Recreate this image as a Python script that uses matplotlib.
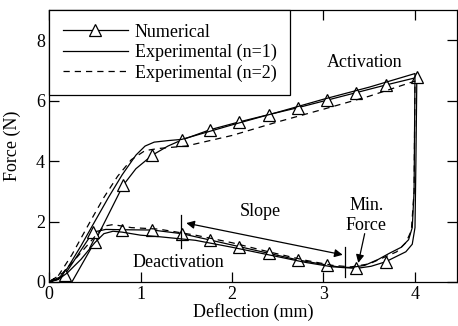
import matplotlib

matplotlib.use("Agg")
import matplotlib.pyplot as plt
from matplotlib.lines import Line2D

plt.rcParams["font.family"] = ["Liberation Serif", "DejaVu Serif"]
plt.rcParams["font.size"] = 13

# numerical model curve (loading then unloading)
num_x = [0.25, 0.5, 0.81, 0.95, 1.13, 1.3, 1.45, 1.76, 2.08, 2.4, 2.72, 3.04, 3.36, 3.68, 4.02,
         4.01, 4.0, 3.97, 3.9, 3.8, 3.68, 3.52, 3.36, 3.2, 3.04, 2.72, 2.4, 2.08, 1.76, 1.45,
         1.13, 0.8, 0.62, 0.48, 0.17, 0.0]
num_y = [0.0, 1.33, 3.2, 3.75, 4.2, 4.5, 4.7, 5.04, 5.3, 5.54, 5.77, 6.02, 6.27, 6.52, 6.77,
         4.0, 1.8, 1.25, 1.0, 0.85, 0.67, 0.52, 0.45, 0.48, 0.56, 0.73, 0.95, 1.17, 1.39, 1.6,
         1.72, 1.73, 1.74, 1.65, 0.23, 0.0]
# triangle markers of the numerical curve
mark_x = [0.5, 0.81, 1.13, 1.45, 1.76, 2.08, 2.4, 2.72, 3.04, 3.36, 3.68, 4.02,
          3.68, 3.36, 3.04, 2.72, 2.4, 2.08, 1.76, 1.45, 1.13, 0.8, 0.48, 0.17]
mark_y = [1.33, 3.2, 4.2, 4.7, 5.04, 5.3, 5.54, 5.77, 6.02, 6.27, 6.52, 6.77,
          0.67, 0.45, 0.56, 0.73, 0.95, 1.17, 1.39, 1.6, 1.72, 1.73, 1.65, 0.23]

# experimental, n=1
exp1_x = [0.0, 0.1, 0.2, 0.35, 0.5, 0.65, 0.8, 0.95, 1.05, 1.15, 1.3, 1.45, 1.6, 2.0, 2.5,
          3.0, 3.5, 4.0, 3.99, 3.97, 3.93, 3.85, 3.72, 3.6, 3.45, 3.3, 3.1, 2.8, 2.4, 2.0,
          1.6, 1.2, 1.0, 0.8, 0.7, 0.6, 0.5, 0.35, 0.2, 0.1, 0.0]
exp1_y = [0.0, 0.1, 0.45, 1.2, 2.0, 2.8, 3.55, 4.2, 4.5, 4.63, 4.68, 4.72, 4.85, 5.2, 5.62,
          6.05, 6.45, 6.9, 3.0, 1.8, 1.4, 1.15, 0.95, 0.75, 0.55, 0.48, 0.5, 0.65, 0.9, 1.15,
          1.38, 1.5, 1.55, 1.65, 1.68, 1.6, 1.3, 0.75, 0.3, 0.08, 0.0]

# experimental, n=2
exp2_x = [0.0, 0.1, 0.25, 0.45, 0.6, 0.75, 0.9, 1.05, 1.2, 1.5, 2.0, 2.5, 3.0, 3.5, 4.0,
          3.99, 3.96, 3.9, 3.8, 3.65, 3.5, 3.3, 3.1, 2.8, 2.4, 2.0, 1.6, 1.2, 0.9, 0.7,
          0.6, 0.5, 0.3, 0.15, 0.0]
exp2_y = [0.0, 0.2, 0.9, 2.0, 2.8, 3.5, 4.05, 4.35, 4.42, 4.5, 4.85, 5.3, 5.72, 6.15, 6.65,
          3.0, 1.7, 1.3, 1.0, 0.8, 0.6, 0.5, 0.55, 0.72, 1.0, 1.3, 1.55, 1.75, 1.8, 1.9,
          1.85, 1.5, 0.8, 0.3, 0.0]

fig = plt.figure(figsize=(4.58, 3.26), dpi=100)
ax = fig.add_axes([0.107, 0.135, 0.891, 0.834])

ax.plot(num_x, num_y, color="black", lw=0.9)
ax.plot(mark_x, mark_y, ls="none", marker="^", ms=8, mfc="white", mec="black", mew=0.9)
ax.plot(exp1_x, exp1_y, color="black", lw=0.9)
ax.plot(exp2_x, exp2_y, color="black", lw=0.9, ls=(0, (5, 4)))

# annotations
ax.text(3.45, 7.26, "Activation", ha="center", va="center")
ax.text(1.41, 0.66, "Deactivation", ha="center", va="center")
ax.text(2.31, 2.32, "Slope", ha="center", va="center")
ax.text(3.47, 2.2, "Min.\nForce", ha="center", va="center", linespacing=1.3)
ax.annotate("", xy=(1.5, 1.95), xytext=(3.21, 0.9),
            arrowprops=dict(arrowstyle="<|-|>", color="black", lw=0.9,
                            mutation_scale=12, shrinkA=0, shrinkB=0))
ax.annotate("", xy=(3.38, 0.63), xytext=(3.45, 1.6),
            arrowprops=dict(arrowstyle="-|>", color="black", lw=0.9,
                            mutation_scale=12, shrinkA=0, shrinkB=0))
ax.plot([1.44, 1.44], [1.13, 2.22], color="black", lw=0.9)
ax.plot([3.24, 3.24], [0.17, 1.16], color="black", lw=0.9)

ax.set_xlim(0, 4.46)
ax.set_ylim(0, 9)
ax.set_xticks([0, 1, 2, 3, 4])
ax.set_yticks([0, 2, 4, 6, 8])
ax.tick_params(direction="in", length=7, width=0.9, top=True, right=True, pad=3)
for s in ax.spines.values():
    s.set_linewidth(0.9)
ax.set_xlabel("Deflection (mm)", labelpad=0)
ax.set_ylabel("Force (N)")
ax.yaxis.set_label_coords(-0.068, 0.5)

handles = [
    Line2D([], [], color="black", lw=0.9, marker="^", ms=8, mfc="white", mec="black", mew=0.9),
    Line2D([], [], color="black", lw=0.9),
    Line2D([], [], color="black", lw=0.9, ls=(0, (5, 4))),
]
leg = ax.legend(handles, ["Numerical", "Experimental (n=1)", "Experimental (n=2)"],
                loc="upper left", bbox_to_anchor=(0, 1), borderaxespad=0, fancybox=False,
                edgecolor="black", framealpha=1, numpoints=1, handlelength=3.6,
                handletextpad=0.4, labelspacing=0.18, borderpad=0.75)
leg.get_frame().set_linewidth(0.9)

fig.savefig("out.png", dpi=100)
